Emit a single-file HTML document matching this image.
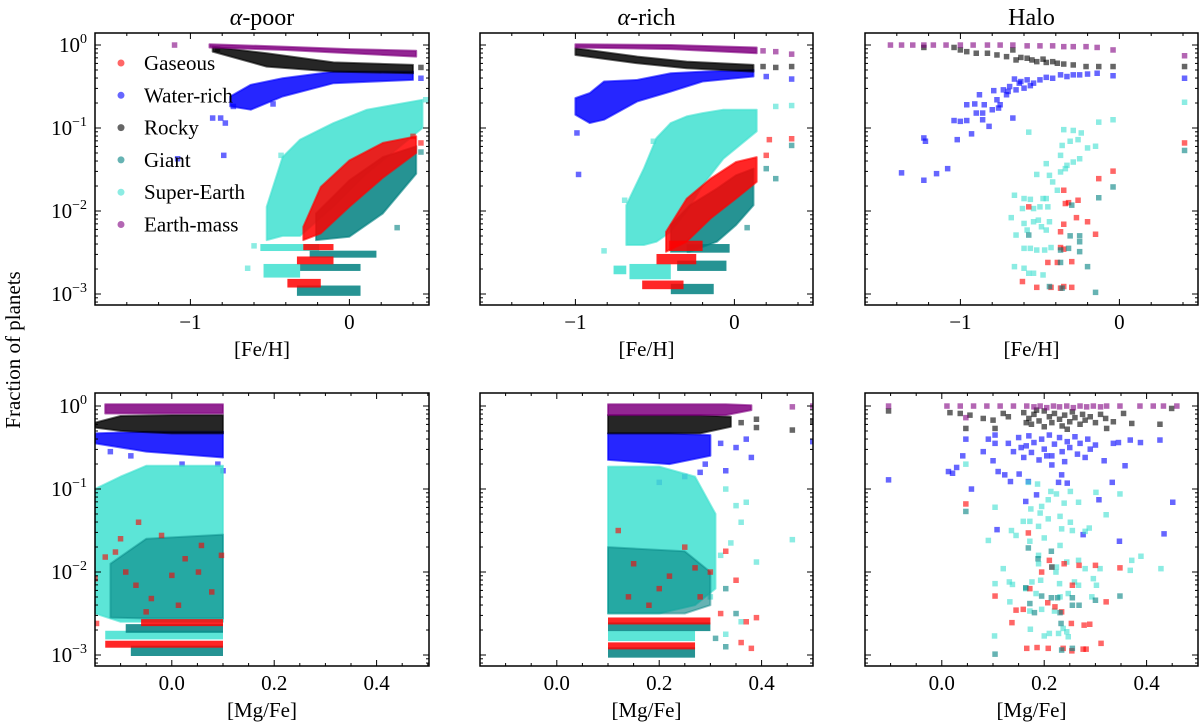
<!DOCTYPE html>
<html><head><meta charset="utf-8"><style>
html,body{margin:0;padding:0;background:#fff;}
svg{display:block;font-family:"Liberation Serif",serif;}
</style></head><body>
<svg id="chart" width="1200" height="726" viewBox="0 0 1200 726" xmlns="http://www.w3.org/2000/svg">
<g id="base"></g>
</svg>
<script>
// ---------- DATA (values: x = [Fe/H] or [Mg/Fe], y = log10 fraction of planets) ----------
const panelTitles = ["α-poor","α-rich","Halo"];
const seriesNames = ["Gaseous","Water-rich","Rocky","Giant","Super-Earth","Earth-mass"];
const feTicks = [-1, 0];
const feTickLabels = ["−1","0"];
const mgTicks = [0.0, 0.2, 0.4];
const mgTickLabels = ["0.0","0.2","0.4"];
const yTicks = [0, -1, -2, -3];
const yTickLabels = ["0","−1","−2","−3"];

// Panel 1: alpha-poor vs [Fe/H]   bands: [x, topLog, bottomLog]; stripes: [x0, x1, topLog, bottomLog]; pts: [x, log]
const p1_earth_band = [[-0.88,0.01,-0.03],[-0.4,-0.02,-0.06],[0,-0.05,-0.1],[0.42,-0.07,-0.14]];
const p1_earth_pts = [[-1.1,0]];
const p1_rocky_band = [[-0.86,-0.02,-0.08],[-0.52,-0.1,-0.26],[-0.1,-0.21,-0.32],[0.4,-0.24,-0.34]];
const p1_rocky_pts = [[0.45,-0.27],[-0.83,-0.05]];
const p1_water_band = [[-0.75,-0.62,-0.74],[-0.62,-0.48,-0.78],[-0.42,-0.4,-0.62],[-0.1,-0.32,-0.46],[0.4,-0.32,-0.42]];
const p1_water_pts = [[-0.86,-0.88],[-0.81,-0.88],[-0.78,-0.94],[-0.73,-0.74],[-0.48,-0.71],[-0.79,-1.33],[-1.08,-1.37],[0.45,-0.4]];
const p1_super_band = [[-0.52,-1.95,-2.35],[-0.42,-1.35,-2.3],[-0.31,-1.14,-2.3],[-0.1,-0.94,-1.95],[0.11,-0.78,-1.55],[0.46,-0.66,-1.0]];
const p1_super_stripes = [[-0.56,-0.19,-2.41,-2.47],[-0.54,-0.31,-2.65,-2.79]];
const p1_super_pts = [[-0.43,-1.33],[-0.64,-2.69],[-0.6,-2.42],[0.48,-0.66]];
const p1_gas_band = [[-0.29,-2.19,-2.35],[-0.18,-1.71,-2.27],[0,-1.39,-1.95],[0.21,-1.18,-1.6],[0.42,-1.1,-1.3]];
const p1_gas_stripes = [[-0.29,-0.1,-2.41,-2.46],[-0.33,-0.1,-2.56,-2.63],[-0.39,-0.18,-2.83,-2.91]];
const p1_gas_pts = [[0.45,-1.18],[0.4,-1.1]];
const p1_giant_band = [[-0.21,-2.03,-2.35],[0,-1.63,-2.31],[0.21,-1.35,-2.03],[0.42,-1.22,-1.55]];
const p1_giant_stripes = [[-0.25,0.17,-2.49,-2.55],[-0.31,0.07,-2.65,-2.71],[-0.33,0.07,-2.91,-3.01]];
const p1_giant_pts = [[0.45,-1.29],[0.3,-2.2]];

// Panel 2: alpha-rich vs [Fe/H]
const p2_earth_band = [[-1,0.01,-0.03],[-0.4,0,-0.05],[0.14,-0.03,-0.1]];
const p2_earth_pts = [[0.18,-0.07],[0.26,-0.08],[0.36,-0.11]];
const p2_rocky_band = [[-1,-0.04,-0.12],[-0.61,-0.14,-0.22],[-0.3,-0.2,-0.28],[0.12,-0.24,-0.32]];
const p2_rocky_pts = [[0.18,-0.26],[0.26,-0.27],[0.36,-0.26]];
const p2_water_band = [[-1,-0.64,-0.84],[-0.91,-0.58,-0.94],[-0.82,-0.44,-0.9],[-0.61,-0.42,-0.68],[-0.4,-0.34,-0.56],[-0.2,-0.32,-0.44],[0.12,-0.3,-0.38]];
const p2_water_pts = [[-0.99,-1.06],[-0.98,-1.56],[0.36,-0.41],[0.2,-0.38]];
const p2_super_band = [[-0.68,-1.93,-2.41],[-0.57,-1.49,-2.41],[-0.49,-1.12,-2.37],[-0.4,-0.94,-2.25],[-0.3,-0.86,-2.01],[-0.2,-0.82,-1.69],[-0.07,-0.78,-1.37],[0.14,-0.78,-1.04]];
const p2_super_stripes = [[-0.66,-0.4,-2.65,-2.81],[-0.76,-0.68,-2.67,-2.75]];
const p2_super_pts = [[0.26,-0.74],[0.36,-0.73],[-0.82,-2.48],[-0.51,-1.16],[-0.69,-1.87]];
const p2_gas_band = [[-0.43,-2.25,-2.49],[-0.3,-1.85,-2.37],[-0.15,-1.61,-2.09],[0.01,-1.41,-1.85],[0.14,-1.35,-1.65]];
const p2_gas_stripes = [[-0.41,-0.2,-2.37,-2.47],[-0.49,-0.24,-2.53,-2.63],[-0.58,-0.32,-2.85,-2.93]];
const p2_gas_pts = [[0.22,-1.14],[0.36,-1.13],[0.2,-1.33]];
const p2_giant_band = [[-0.4,-2.17,-2.49],[-0.28,-1.93,-2.49],[-0.11,-1.73,-2.37],[0.01,-1.57,-2.17],[0.12,-1.49,-1.93]];
const p2_giant_stripes = [[-0.3,-0.03,-2.41,-2.49],[-0.36,-0.05,-2.61,-2.71],[-0.4,-0.13,-2.89,-2.99]];
const p2_giant_pts = [[0.36,-1.21],[0.2,-1.49],[0.26,-1.61],[0.08,-2.2]];

// Panel 3: halo vs [Fe/H]
const p3_earth_pts = [[-1.44,0],[-1.37,0],[-1.3,0],[-1.23,0],[-1.17,0],[-1.09,0],[-1,0],[-0.92,0],[-0.83,0],[-0.75,0],[-0.67,0],[-0.58,-0.01],[-0.5,-0.01],[-0.42,-0.01],[-0.35,-0.02],[-0.29,-0.02],[-0.21,-0.02],[-0.14,-0.03],[-0.04,-0.06],[0.41,-0.13]];
const p3_rocky_pts = [[-1.23,-0.03],[-1.04,-0.03],[-1.0,-0.06],[-0.96,-0.08],[-0.9,-0.1],[-0.83,-0.1],[-0.77,-0.12],[-0.71,-0.14],[-0.67,-0.06],[-0.65,-0.18],[-0.58,-0.16],[-0.52,-0.2],[-0.46,-0.21],[-0.39,-0.22],[-0.35,-0.23],[-0.29,-0.24],[-0.21,-0.26],[-0.13,-0.26],[-0.04,-0.26],[0.41,-0.26],[-0.55,-0.18],[-0.48,-0.17],[-0.42,-0.2],[-0.62,-0.15]];
const p3_water_pts = [[-1.37,-1.54],[-1.23,-1.63],[-1.15,-1.55],[-1.08,-1.49],[-1.23,-1.12],[-1.22,-1.16],[-1.04,-0.91],[-1.02,-1.14],[-1.0,-0.92],[-0.96,-0.91],[-0.93,-1.07],[-0.96,-0.72],[-0.91,-0.71],[-0.88,-0.6],[-0.9,-0.82],[-0.86,-0.82],[-0.86,-0.9],[-0.82,-0.98],[-0.85,-0.72],[-0.8,-0.78],[-0.79,-0.55],[-0.77,-0.66],[-0.76,-0.76],[-0.73,-0.54],[-0.71,-0.6],[-0.75,-0.72],[-0.67,-0.88],[-0.69,-0.5],[-0.66,-0.41],[-0.63,-0.46],[-0.58,-0.42],[-0.54,-0.46],[-0.5,-0.42],[-0.46,-0.39],[-0.42,-0.4],[-0.37,-0.36],[-0.33,-0.38],[-0.29,-0.36],[-0.25,-0.36],[-0.2,-0.35],[-0.14,-0.34],[-0.04,-0.37],[0.41,-0.4],[-0.7,-0.56],[-0.6,-0.52],[-0.65,-0.54],[-0.62,-0.44],[-0.56,-0.49]];
const p3_super_pts = [[-0.57,-1.05],[-0.35,-1.02],[-0.29,-1.03],[-0.24,-1.06],[-0.31,-1.16],[-0.26,-1.14],[-0.36,-1.21],[-0.2,-1.24],[-0.15,-1.22],[-0.13,-0.93],[-0.04,-0.9],[0.41,-0.69],[-0.37,-1.33],[-0.46,-1.43],[-0.25,-1.37],[-0.33,-1.45],[-0.29,-1.41],[-0.52,-1.56],[-0.44,-1.57],[-0.37,-1.53],[-0.34,-1.49],[-0.42,-1.65],[-0.39,-1.75],[-0.46,-1.85],[-0.6,-1.85],[-0.66,-1.81],[-0.56,-1.86],[-0.48,-1.85],[-0.5,-1.95],[-0.45,-1.95],[-0.68,-2.08],[-0.61,-1.97],[-0.54,-1.97],[-0.65,-2.29],[-0.6,-2.15],[-0.54,-2.13],[-0.51,-2.11],[-0.44,-2.13],[-0.58,-2.23],[-0.46,-2.23],[-0.6,-2.45],[-0.56,-2.45],[-0.52,-2.47],[-0.47,-2.47],[-0.43,-2.44],[-0.66,-2.67],[-0.6,-2.69],[-0.57,-2.75],[-0.54,-2.75],[-0.48,-2.77],[-0.49,-2.19]];
const p3_gas_pts = [[-0.57,-1.95],[-0.35,-1.75],[-0.34,-1.91],[-0.32,-1.9],[-0.26,-1.87],[-0.27,-2.08],[-0.2,-2.13],[-0.15,-2.28],[-0.35,-2.16],[-0.37,-2.25],[-0.37,-2.44],[-0.35,-2.46],[-0.45,-2.62],[-0.39,-2.62],[-0.3,-2.61],[-0.61,-2.85],[-0.52,-2.92],[-0.43,-2.92],[-0.37,-2.93],[-0.35,-2.91],[-0.3,-2.92],[-0.13,-1.61],[-0.04,-1.52],[0.41,-1.18]];
const p3_giant_pts = [[-0.3,-1.93],[-0.57,-2.29],[-0.31,-2.3],[-0.25,-2.3],[-0.25,-2.37],[-0.37,-2.47],[-0.32,-2.45],[-0.25,-2.49],[-0.37,-2.62],[-0.2,-2.67],[-0.44,-2.91],[-0.36,-2.93],[-0.15,-2.98],[-0.13,-1.84],[-0.04,-1.71],[0.41,-1.27]];

// Panel 4: alpha-poor vs [Mg/Fe]
const p4_earth_band = [[-0.13,0.02,-0.09],[0.1,0.02,-0.09]];
const p4_rocky_band = [[-0.15,-0.2,-0.26],[-0.1,-0.12,-0.3],[0,-0.11,-0.33],[0.1,-0.11,-0.33]];
const p4_water_band = [[-0.15,-0.33,-0.45],[-0.05,-0.31,-0.55],[0.1,-0.31,-0.62]];
const p4_water_pts = [[-0.12,-0.55],[-0.08,-0.6],[0.02,-0.7],[0.09,-0.7],[0.1,-0.78]];
const p4_super_band = [[-0.15,-1.0,-2.5],[-0.1,-0.85,-2.6],[-0.05,-0.72,-2.6],[0.1,-0.72,-2.6]];
const p4_super_stripes = [[-0.13,0.1,-2.72,-2.8]];
const p4_giant_band = [[-0.12,-1.9,-2.55],[-0.05,-1.6,-2.56],[0.1,-1.55,-2.56]];
const p4_giant_stripes = [[-0.09,0.1,-2.64,-2.72],[-0.08,0.1,-2.9,-3.0]];
const p4_gas_stripes = [[-0.06,0.1,-2.58,-2.64],[-0.13,0.1,-2.84,-2.9]];
const p4_gas_pts = [[-0.13,-1.82],[-0.11,-1.76],[-0.1,-1.6],[-0.065,-1.4],[-0.15,-2.08],[-0.147,-2.62],[-0.09,-2.0],[-0.07,-2.16],[-0.04,-2.32],[0.0,-2.04],[0.026,-1.84],[0.052,-2.0],[0.078,-2.24],[0.097,-1.8],[-0.02,-1.56],[0.013,-2.4],[0.058,-1.68],[-0.05,-2.48]];

// Panel 5: alpha-rich vs [Mg/Fe]
const p5_earth_band = [[0.1,0.02,-0.11],[0.33,0.02,-0.11],[0.38,0.01,-0.05]];
const p5_earth_pts = [[0.46,-0.01],[0.5,0]];
const p5_rocky_band = [[0.1,-0.11,-0.33],[0.28,-0.11,-0.33],[0.34,-0.13,-0.25]];
const p5_rocky_pts = [[0.36,-0.2],[0.39,-0.16],[0.39,-0.26],[0.46,-0.29],[0.5,-0.19]];
const p5_water_band = [[0.1,-0.33,-0.65],[0.22,-0.33,-0.7],[0.3,-0.35,-0.6]];
const p5_water_pts = [[0.32,-0.45],[0.35,-0.5],[0.37,-0.4],[0.38,-0.62],[0.33,-0.78],[0.28,-0.8],[0.25,-0.85],[0.5,-0.43],[0.2,-0.92],[0.29,-0.7]];
const p5_super_band = [[0.1,-0.73,-2.5],[0.2,-0.73,-2.5],[0.27,-0.85,-2.4],[0.31,-1.3,-2.2]];
const p5_super_stripes = [[0.1,0.27,-2.72,-2.82]];
const p5_super_pts = [[0.33,-1.0],[0.35,-1.2],[0.36,-1.4],[0.37,-1.16],[0.34,-1.65],[0.32,-1.8],[0.46,-1.61],[0.39,-1.88],[0.36,-2.6],[0.33,-2.75],[0.3,-2.3]];
const p5_giant_band = [[0.1,-1.7,-2.5],[0.25,-1.75,-2.5],[0.3,-2.0,-2.4]];
const p5_giant_stripes = [[0.1,0.3,-2.62,-2.7],[0.1,0.27,-2.92,-3.02]];
const p5_giant_pts = [[0.33,-2.2],[0.35,-2.5],[0.31,-2.8],[0.33,-2.9]];
const p5_gas_stripes = [[0.1,0.3,-2.56,-2.62],[0.1,0.27,-2.86,-2.92]];
const p5_gas_pts = [[0.12,-1.5],[0.15,-1.9],[0.2,-2.2],[0.25,-1.7],[0.27,-1.95],[0.28,-2.3],[0.3,-2.0],[0.32,-2.5],[0.33,-1.75],[0.35,-2.1],[0.37,-2.6],[0.39,-2.55],[0.36,-2.85],[0.38,-2.92],[0.18,-2.4],[0.22,-2.05],[0.14,-2.3]];

// Panel 6: halo vs [Mg/Fe]
const p6_earth_pts = [[-0.104,0],[0.01,0],[0.036,0],[0.062,0],[0.088,0],[0.114,0],[0.14,0],[0.166,0],[0.18,-0.01],[0.192,0],[0.205,-0.02],[0.218,0],[0.23,-0.01],[0.244,0],[0.257,-0.02],[0.27,0],[0.283,-0.01],[0.296,0],[0.31,-0.01],[0.322,0],[0.348,0],[0.387,0],[0.413,0],[0.433,0],[0.459,0],[0.047,-0.14]];
const p6_rocky_pts = [[-0.104,-0.06],[0.016,-0.08],[0.036,-0.09],[0.055,-0.11],[0.047,-0.27],[0.081,-0.15],[0.104,-0.27],[0.1,-0.17],[0.12,-0.09],[0.13,-0.13],[0.16,-0.08],[0.17,-0.15],[0.175,-0.22],[0.18,-0.1],[0.19,-0.18],[0.2,-0.06],[0.2,-0.25],[0.21,-0.13],[0.215,-0.2],[0.22,-0.09],[0.23,-0.16],[0.235,-0.24],[0.24,-0.11],[0.25,-0.19],[0.255,-0.07],[0.26,-0.14],[0.27,-0.22],[0.275,-0.1],[0.28,-0.17],[0.29,-0.13],[0.3,-0.2],[0.31,-0.1],[0.32,-0.15],[0.185,-0.05],[0.245,-0.28],[0.165,-0.2],[0.335,-0.19],[0.355,-0.09],[0.371,-0.21],[0.322,-0.27],[0.426,-0.22],[0.449,-0.03]];
const p6_water_pts = [[-0.104,-0.89],[0.013,-0.79],[0.021,-0.81],[0.029,-0.74],[0.041,-0.6],[0.047,-0.4],[0.058,-1.0],[0.081,-0.55],[0.091,-0.4],[0.104,-0.35],[0.104,-0.45],[0.1,-0.66],[0.11,-0.79],[0.123,-0.83],[0.134,-0.91],[0.151,-0.82],[0.169,-0.91],[0.164,-1.15],[0.185,-1.07],[0.234,-0.83],[0.228,-0.92],[0.245,-0.93],[0.215,-0.71],[0.307,-1.13],[0.317,-0.66],[0.333,-0.92],[0.335,-0.45],[0.358,-0.72],[0.345,-0.44],[0.368,-0.41],[0.388,-0.44],[0.426,-0.41],[0.451,-1.16],[0.434,-1.54],[0.108,-1.49],[0.276,-1.55],[0.347,-1.63],[0.13,-0.45],[0.14,-0.55],[0.15,-0.38],[0.16,-0.62],[0.165,-0.48],[0.17,-0.36],[0.175,-0.56],[0.18,-0.44],[0.19,-0.65],[0.195,-0.4],[0.2,-0.52],[0.21,-0.35],[0.215,-0.6],[0.22,-0.46],[0.23,-0.38],[0.235,-0.55],[0.24,-0.67],[0.245,-0.43],[0.25,-0.5],[0.26,-0.37],[0.265,-0.58],[0.27,-0.45],[0.28,-0.62],[0.285,-0.4],[0.29,-0.52],[0.3,-0.47],[0.155,-0.5],[0.205,-0.6]];
const p6_super_pts = [[0.047,-0.7],[0.104,-1.22],[0.091,-1.62],[0.104,-2.14],[0.103,-2.77],[0.12,-1.96],[0.136,-1.5],[0.145,-1.56],[0.132,-2.12],[0.138,-2.15],[0.133,-2.36],[0.159,-1.39],[0.172,-1.39],[0.169,-0.92],[0.187,-0.94],[0.174,-1.24],[0.195,-1.21],[0.192,-1.29],[0.208,-1.36],[0.213,-1.03],[0.224,-1.06],[0.239,-1.17],[0.208,-1.13],[0.251,-1.03],[0.267,-1.16],[0.231,-1.33],[0.234,-1.48],[0.255,-1.5],[0.251,-1.4],[0.288,-1.47],[0.28,-1.51],[0.301,-1.04],[0.321,-1.31],[0.348,-1.06],[0.189,-1.45],[0.2,-1.59],[0.172,-1.63],[0.231,-1.68],[0.189,-1.8],[0.189,-1.9],[0.224,-1.94],[0.223,-2.0],[0.244,-1.88],[0.267,-1.86],[0.28,-1.96],[0.309,-1.96],[0.267,-2.16],[0.296,-2.08],[0.302,-2.16],[0.259,-2.12],[0.23,-2.14],[0.193,-2.1],[0.176,-2.12],[0.164,-2.2],[0.184,-2.26],[0.231,-2.3],[0.247,-2.26],[0.293,-2.3],[0.368,-1.98],[0.371,-1.86],[0.389,-1.81],[0.428,-1.96],[0.173,-2.69],[0.2,-2.77],[0.21,-2.74],[0.228,-2.74],[0.237,-2.68],[0.244,-2.72],[0.247,-2.78],[0.172,-2.47],[0.195,-2.45],[0.22,-2.47]];
const p6_gas_pts = [[0.047,-1.18],[0.104,-2.29],[0.169,-1.53],[0.21,-1.86],[0.215,-1.94],[0.239,-1.9],[0.195,-2.0],[0.268,-1.92],[0.3,-1.92],[0.348,-1.95],[0.255,-2.16],[0.172,-2.2],[0.207,-2.37],[0.221,-2.42],[0.234,-2.48],[0.145,-2.46],[0.159,-2.45],[0.321,-2.36],[0.137,-2.61],[0.253,-2.62],[0.278,-2.64],[0.289,-2.63],[0.311,-2.86],[0.166,-2.92],[0.186,-2.91],[0.208,-2.92],[0.237,-2.92],[0.254,-2.95],[0.276,-2.93],[0.282,-2.93]];
const p6_giant_pts = [[0.047,-1.27],[0.169,-1.71],[0.188,-1.84],[0.214,-1.75],[0.215,-1.94],[0.195,-2.29],[0.214,-2.31],[0.226,-2.31],[0.255,-2.31],[0.255,-2.4],[0.268,-2.4],[0.172,-2.38],[0.181,-2.49],[0.231,-2.49],[0.3,-2.34],[0.348,-2.29],[0.233,-2.62],[0.104,-2.99],[0.234,-2.94],[0.255,-2.92],[0.164,-2.19]];

// ---------- RENDERING ----------
const COL = {gas:"#ff0000", water:"#0000ff", rocky:"#000000", giant:"#008080", sup:"#40e0d0", earth:"#800080"};
const NS = "http://www.w3.org/2000/svg";
const root = document.getElementById("base");
function mk(tag, attrs, parent){
  const e = document.createElementNS(NS, tag);
  for (const k in attrs) e.setAttribute(k, attrs[k]);
  (parent||root).appendChild(e);
  return e;
}
const panels = [
  {name:"alpha-poor-feh", left:95, right:429, top:33, bottom:305, y0:45, kind:"fe", title:0, ylab:true},
  {name:"alpha-rich-feh", left:480, right:813, top:33, bottom:305, y0:45, kind:"fe", title:1, ylab:false},
  {name:"halo-feh", left:865, right:1198, top:33, bottom:305, y0:45, kind:"fe", title:2, ylab:false},
  {name:"alpha-poor-mgfe", left:95, right:429, top:393, bottom:666, y0:406, kind:"mg", ylab:true},
  {name:"alpha-rich-mgfe", left:480, right:813, top:393, bottom:666, y0:406, kind:"mg", ylab:false},
  {name:"halo-mgfe", left:865, right:1198, top:393, bottom:666, y0:406, kind:"mg", ylab:false}
];
function xScale(p){ return p.kind==="fe" ? (v => p.left + (v+1.6)*159) : (v => p.left + (v+0.15)*512); }
function yScale(p){ return v => p.y0 - v*83; }

function drawBand(g, p, band, color, op, name){
  if(!band) return;
  const X=xScale(p), Y=yScale(p);
  let d = band.map((r,i)=>(i?"L":"M")+X(r[0]).toFixed(1)+","+Y(r[1]).toFixed(1)).join(" ");
  for(let i=band.length-1;i>=0;i--) d += " L"+X(band[i][0]).toFixed(1)+","+Y(band[i][2]).toFixed(1);
  d += " Z";
  const e = mk("path",{d:d, fill:color, "fill-opacity":op, stroke:color, "stroke-opacity":op*0.7, "stroke-width":2, "stroke-linejoin":"round"}, g);
  
  
}
function drawStripes(g, p, stripes, color, op, name){
  if(!stripes) return;
  const X=xScale(p), Y=yScale(p);
  stripes.forEach(s=>{
    const e = mk("rect",{x:X(s[0]), y:Y(s[2])-1, width:X(s[1])-X(s[0]), height:Y(s[3])-Y(s[2])+2, fill:color, "fill-opacity":op}, g);
    
    
  });
}
function drawPts(g, p, pts, color, name){
  if(!pts) return;
  const X=xScale(p), Y=yScale(p);
  pts.forEach(q=>{
    const e = mk("rect",{x:(X(q[0])-2.75).toFixed(1), y:(Y(q[1])-2.75).toFixed(1), width:5.5, height:5.5, fill:color, "fill-opacity":0.6}, g);
    
    
  });
}

const layers = [
  [
    ["water", p1_water_band, null, p1_water_pts],
    ["rocky", p1_rocky_band, null, p1_rocky_pts],
    ["earth", p1_earth_band, null, p1_earth_pts],
    ["sup", p1_super_band, p1_super_stripes, p1_super_pts],
    ["giant", p1_giant_band, p1_giant_stripes, p1_giant_pts],
    ["gas", p1_gas_band, p1_gas_stripes, p1_gas_pts]
  ],
  [
    ["water", p2_water_band, null, p2_water_pts],
    ["rocky", p2_rocky_band, null, p2_rocky_pts],
    ["earth", p2_earth_band, null, p2_earth_pts],
    ["sup", p2_super_band, p2_super_stripes, p2_super_pts],
    ["giant", p2_giant_band, p2_giant_stripes, p2_giant_pts],
    ["gas", p2_gas_band, p2_gas_stripes, p2_gas_pts]
  ],
  [
    ["water", null, null, p3_water_pts],
    ["rocky", null, null, p3_rocky_pts],
    ["earth", null, null, p3_earth_pts],
    ["sup", null, null, p3_super_pts],
    ["gas", null, null, p3_gas_pts],
    ["giant", null, null, p3_giant_pts]
  ],
  [
    ["water", p4_water_band, null, p4_water_pts],
    ["rocky", p4_rocky_band, null, null],
    ["earth", p4_earth_band, null, null],
    ["sup", p4_super_band, p4_super_stripes, null],
    ["giant", p4_giant_band, p4_giant_stripes, null],
    ["gas", null, p4_gas_stripes, p4_gas_pts]
  ],
  [
    ["water", p5_water_band, null, p5_water_pts],
    ["rocky", p5_rocky_band, null, p5_rocky_pts],
    ["earth", p5_earth_band, null, p5_earth_pts],
    ["sup", p5_super_band, p5_super_stripes, p5_super_pts],
    ["giant", p5_giant_band, p5_giant_stripes, p5_giant_pts],
    ["gas", null, p5_gas_stripes, p5_gas_pts]
  ],
  [
    ["water", null, null, p6_water_pts],
    ["rocky", null, null, p6_rocky_pts],
    ["earth", null, null, p6_earth_pts],
    ["sup", null, null, p6_super_pts],
    ["gas", null, null, p6_gas_pts],
    ["giant", null, null, p6_giant_pts]
  ]
];
const seriesKey = {gas:"gaseous", water:"water-rich", rocky:"rocky", giant:"giant", sup:"super-earth", earth:"earth-mass"};

const defs = mk("defs",{});
panels.forEach((p,pi)=>{
  const g = mk("g",{});
  
  
  const cp = mk("clipPath",{id:"clip"+pi}, defs);
  mk("rect",{x:p.left, y:p.top, width:p.right-p.left, height:p.bottom-p.top}, cp);
  const plot = mk("g",{"clip-path":"url(#clip"+pi+")"}, g);
  
  
  layers[pi].forEach(L=>{
    const c = COL[L[0]], nm = seriesKey[L[0]];
    const op = (L[0]==="giant" && p.kind==="mg") ? 0.6 : 0.85;
    drawBand(plot, p, L[1], c, op, nm);
    drawStripes(plot, p, L[2], c, 0.85, nm);
    drawPts(plot, p, L[3], c, nm);
  });
  const fr = mk("rect",{x:p.left, y:p.top, width:p.right-p.left, height:p.bottom-p.top, fill:"none", stroke:"#000", "stroke-width":1.5}, g);
  
  
  const X = xScale(p), Y = yScale(p);
  const tk = mk("g",{stroke:"#000","stroke-width":1}, g);
  
  
  for(let d=-4; d<=0; d++){
    for(let k=1;k<=9;k++){
      const v = d + Math.log10(k);
      const yy = Y(v);
      if(yy < p.top+0.5 || yy > p.bottom-0.5) continue;
      const len = k===1 ? 6 : 3;
      mk("line",{x1:p.left, x2:p.left+len, y1:yy, y2:yy}, tk);
      mk("line",{x1:p.right, x2:p.right-len, y1:yy, y2:yy}, tk);
    }
  }
  const step = p.kind==="fe" ? 0.2 : 0.05;
  const lo = p.kind==="fe" ? -1.6 : -0.15, hi = 0.5;
  for(let i=Math.ceil(lo/step-1e-6); i*step<=hi+1e-6; i++){
    const v = i*step;
    const xx = X(v);
    if(xx < p.left+0.5 || xx > p.right-0.5) continue;
    const major = p.kind==="fe" ? Math.abs(v-Math.round(v))<1e-6 : Math.abs(v/0.2-Math.round(v/0.2))<1e-6;
    const len = major ? 6 : 3;
    mk("line",{x1:xx, x2:xx, y1:p.bottom, y2:p.bottom-len}, tk);
    mk("line",{x1:xx, x2:xx, y1:p.top, y2:p.top+len}, tk);
  }
  const ticks = p.kind==="fe" ? feTicks : mgTicks;
  const labs = p.kind==="fe" ? feTickLabels : mgTickLabels;
  ticks.forEach((v,i)=>{
    const t = mk("text",{x:X(v), y:p.bottom+24, "text-anchor":"middle", "font-size":21}, g);
    t.textContent = labs[i];
    
    
  });
  const xl = mk("text",{x:(p.left+p.right)/2, y:p.bottom+51, "text-anchor":"middle", "font-size":21}, g);
  xl.textContent = p.kind==="fe" ? "[Fe/H]" : "[Mg/Fe]";
  
  
  if(p.ylab){
    yTicks.forEach((v,i)=>{
      const t = mk("text",{x:p.left-8, y:Y(v)+7, "text-anchor":"end", "font-size":21}, g);
      
      
      const b = document.createElementNS(NS,"tspan"); b.textContent="10"; t.appendChild(b);
      const s = document.createElementNS(NS,"tspan"); s.setAttribute("dy","-9"); s.setAttribute("font-size","14"); s.textContent=yTickLabels[i]; t.appendChild(s);
    });
  }
  if(p.title!==undefined){
    const tt = mk("text",{x:(p.left+p.right)/2, y:25, "text-anchor":"middle", "font-size":24}, g);
    
    
    const name = panelTitles[p.title];
    if(name.startsWith("α")){
      const a = document.createElementNS(NS,"tspan"); a.setAttribute("font-style","italic"); a.textContent="α"; tt.appendChild(a);
      const r = document.createElementNS(NS,"tspan"); r.textContent=name.slice(1); tt.appendChild(r);
    } else { tt.textContent = name; }
  }
});

const yt = mk("text",{x:0, y:0, transform:"translate(20,350) rotate(-90)", "text-anchor":"middle", "font-size":21});
yt.textContent = "Fraction of planets";



const legColors = [COL.gas, COL.water, COL.rocky, COL.giant, COL.sup, COL.earth];
const lg = mk("g",{});


seriesNames.forEach((n,i)=>{
  const yy = 63 + i*32.3;
  const c = mk("circle",{cx:121, cy:yy, r:3.5, fill:legColors[i], "fill-opacity":0.6}, lg);
  
  
  const t = mk("text",{x:144, y:yy+7, "font-size":21}, lg);
  t.textContent = n;
  
  
});
</script>
</body></html>
